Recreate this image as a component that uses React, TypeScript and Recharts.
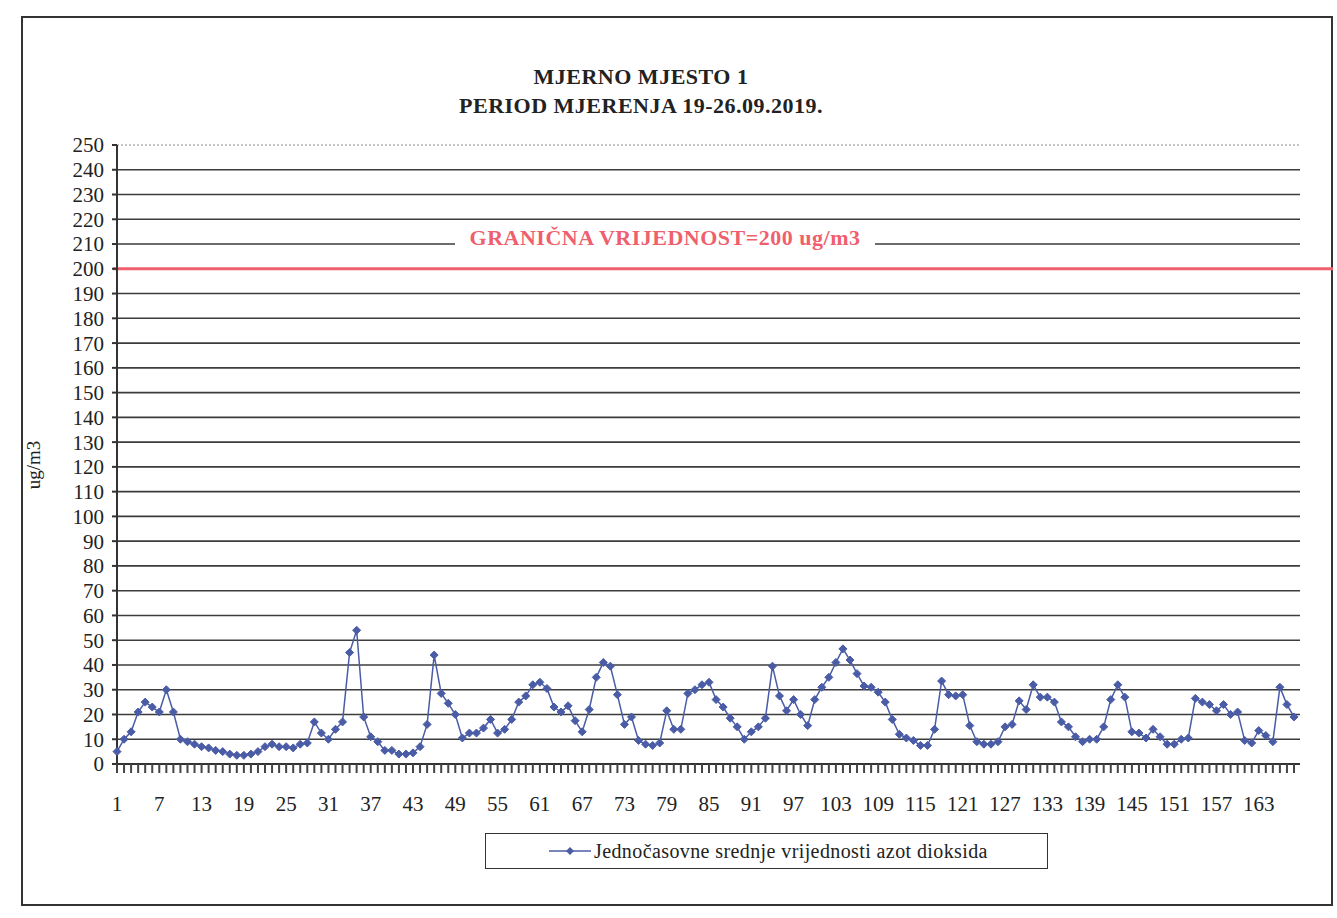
import type { FC, ReactNode } from 'react'

import {
    LineChart,
    Line,
    XAxis,
    YAxis,
    CartesianGrid,
    ReferenceLine
} from 'recharts'

const HOURS: number[] = Array.from({ length: 168 }, (_, i) => i + 1)

// jednočasovne srednje vrijednosti NO2, ug/m3
const NO2_VALUES: number[] = [
    5, 10, 13, 21, 25, 23, 21, 30, 21, 10, 9, 8, 7, 6.5, 5.5, 5, 4, 3.5, 3.5, 4,
    5, 7, 8, 7, 7, 6.5, 8, 8.5, 17, 12.5, 10, 14, 17, 45, 54, 19, 11, 9, 5.5,
    5.5, 4, 4, 4.5, 7, 16, 44, 28.5, 24.5, 20, 10.5, 12.5, 12.5, 14.5, 18, 12.5,
    14, 18, 25, 27.5, 32, 33, 30.5, 23, 21, 23.5, 17.5, 13, 22, 35, 41, 39.5,
    28, 16, 19, 9.5, 8, 7.5, 8.5, 21.5, 14, 14, 28.5, 30, 32, 33, 26, 23, 18.5,
    15, 10, 13, 15, 18.5, 39.5, 27.5, 21.5, 26, 20, 15.5, 26, 31, 35, 41, 46.5,
    42, 36.5, 31.5, 31, 29, 25, 18, 12, 10.5, 9.5, 7.5, 7.5, 14, 33.5, 28, 27.5,
    28, 15.5, 9, 8, 8, 9, 15, 16, 25.5, 22, 32, 27, 27, 25, 17, 15, 11, 9, 10,
    10, 15, 26, 32, 27, 13, 12.5, 10.5, 14, 11, 8, 8, 10, 10.5, 26.5, 25, 24,
    21.5, 24, 20, 21, 9.5, 8.5, 13.5, 11.5, 9, 31, 24, 19
]

const X_LABELS: number[] = [
    1, 7, 13, 19, 25, 31, 37, 43, 49, 55, 61, 67, 73, 79, 85, 91, 97, 103, 109,
    115, 121, 127, 133, 139, 145, 151, 157, 163
]

const Y_TICKS: number[] = [
    0, 10, 20, 30, 40, 50, 60, 70, 80, 90, 100, 110, 120, 130, 140, 150, 160,
    170, 180, 190, 200, 210, 220, 230, 240, 250
]

const LIMIT_VALUE = 200
const LIMIT_TEXT = 'GRANIČNA VRIJEDNOST=200 ug/m3'
const SERIES_NAME = 'Jednočasovne srednje vrijednosti azot dioksida'
const TITLE_LINES = ['MJERNO MJESTO 1', 'PERIOD MJERENJA 19-26.09.2019.']
const Y_LABEL = 'ug/m3'

const chartData = HOURS.map((hour, i) => ({ hour, no2: NO2_VALUES[i] }))

const SERIF = '"Liberation Serif", "Times New Roman", serif'
const BLUE = '#4a5ca6'
const RED = '#ef5f6d'
const GRID = '#3c3c3c'

const HourTick = (props: any): ReactNode => {
    const { x, y, payload } = props
    const showLabel = X_LABELS.includes(payload.value)
    return (
        <g>
            <line x1={x} x2={x} y1={y} y2={y + 9} stroke='#444' strokeWidth={2} />
            {showLabel && (
                <text
                    x={x}
                    y={y + 47}
                    textAnchor='middle'
                    fontSize={21}
                    fontFamily={SERIF}
                    fill='#222'
                >
                    {payload.value}
                </text>
            )}
        </g>
    )
}

const Diamond = (props: any): ReactNode => {
    const { cx, cy } = props
    if (cx == null || cy == null) return null
    const r = 4
    return (
        <polygon
            points={`${cx},${cy - r} ${cx + r},${cy} ${cx},${cy + r} ${cx - r},${cy}`}
            fill={BLUE}
            stroke={BLUE}
            strokeWidth={1}
        />
    )
}

const LimitLabel = (props: any): ReactNode => {
    const { viewBox } = props
    if (!viewBox) return null
    const cx = viewBox.x + 548
    const cy = viewBox.y - 31
    return (
        <g>
            <rect x={cx - 210} y={cy - 17} width={420} height={31} fill='#fff' />
            <text
                x={cx}
                y={cy + 7}
                textAnchor='middle'
                fontSize={22}
                letterSpacing={0.5}
                fontWeight='bold'
                fontFamily={SERIF}
                fill={RED}
            >
                {LIMIT_TEXT}
            </text>
        </g>
    )
}

// the limit line runs on past the plot, up to the frame
const LimitShape = (props: any): ReactNode => {
    const { x1, y1, x2, y2 } = props
    if (x1 == null) return null
    return (
        <line
            x1={x1 - 4}
            y1={y1}
            x2={x2 + 33}
            y2={y2}
            stroke={RED}
            strokeWidth={3}
        />
    )
}

const YTitle = (): ReactNode => (
    <text
        x={40}
        y={465}
        transform='rotate(-90 40 465)'
        textAnchor='middle'
        fontSize={19}
        fontFamily={SERIF}
        fill='#222'
    >
        {Y_LABEL}
    </text>
)

const App: FC = (): ReactNode => {
    return (
        <div
            style={{
                position: 'absolute',
                left: 0,
                top: 0,
                width: 1337,
                height: 918,
                background: '#fff',
                fontFamily: SERIF
            }}
        >
            <div
                style={{
                    position: 'absolute',
                    left: 21,
                    top: 16,
                    width: 1312,
                    height: 890,
                    border: '2px solid #333',
                    boxSizing: 'border-box'
                }}
            />
            {TITLE_LINES.map((line, i) => (
                <div
                    key={line}
                    style={{
                        position: 'absolute',
                        left: 341,
                        width: 600,
                        top: 64 + i * 29,
                        textAlign: 'center',
                        fontSize: 22,
                        letterSpacing: 0.5,
                        fontWeight: 'bold',
                        lineHeight: '26px',
                        color: '#222'
                    }}
                >
                    {line}
                </div>
            ))}
            <div style={{ position: 'absolute', left: 0, top: 0 }}>
                <LineChart
                    width={1337}
                    height={918}
                    data={chartData}
                    margin={{ top: 145, right: 37, bottom: 104, left: 0 }}
                >
                    <CartesianGrid
                        vertical={false}
                        stroke={GRID}
                        strokeWidth={1.6}
                    />
                    <XAxis
                        dataKey='hour'
                        interval={0}
                        height={50}
                        padding={{ left: 0, right: 6 }}
                        tickSize={0}
                        tickMargin={0}
                        tickLine={false}
                        axisLine={{ stroke: '#333', strokeWidth: 2 }}
                        tick={<HourTick />}
                    />
                    <YAxis
                        domain={[0, 250]}
                        ticks={Y_TICKS}
                        interval={0}
                        width={117}
                        tickSize={5}
                        tickMargin={8}
                        axisLine={{ stroke: '#333', strokeWidth: 2 }}
                        tickLine={{ stroke: '#333', strokeWidth: 2 }}
                        tick={{ fontSize: 21, fontFamily: SERIF, fill: '#222' }}
                        label={<YTitle />}
                    />
                    <YAxis
                        yAxisId='right'
                        orientation='right'
                        domain={[0, 250]}
                        width={0}
                        tick={false}
                        tickLine={false}
                        axisLine={{
                            stroke: '#999',
                            strokeWidth: 1,
                            strokeDasharray: '2 2'
                        }}
                    />
                    <ReferenceLine y={250} stroke='#fff' strokeWidth={3} />
                    <ReferenceLine
                        y={250}
                        stroke='#888'
                        strokeWidth={1}
                        strokeDasharray='2 2'
                    />
                    <ReferenceLine
                        y={LIMIT_VALUE}
                        stroke={RED}
                        strokeWidth={3}
                        shape={LimitShape}
                        label={<LimitLabel />}
                    />
                    <Line
                        type='linear'
                        dataKey='no2'
                        name={SERIES_NAME}
                        stroke={BLUE}
                        strokeWidth={1.5}
                        dot={<Diamond />}
                        activeDot={false}
                        isAnimationActive={false}
                    />
                </LineChart>
            </div>
            <div
                style={{
                    position: 'absolute',
                    left: 485,
                    top: 833,
                    width: 563,
                    height: 36,
                    border: '1.5px solid #333',
                    boxSizing: 'border-box',
                    display: 'flex',
                    alignItems: 'center'
                }}
            >
                <svg width={108} height={20} style={{ flex: 'none' }}>
                    <line x1={63} x2={105} y1={10} y2={10} stroke={BLUE} strokeWidth={1.5} />
                    <polygon points='84,6 88,10 84,14 80,10' fill={BLUE} />
                </svg>
                <span
                    style={{
                        fontSize: 20,
                        letterSpacing: 0.4,
                        color: '#222',
                        whiteSpace: 'nowrap'
                    }}
                >
                    {SERIES_NAME}
                </span>
            </div>
        </div>
    )
}

export default App
